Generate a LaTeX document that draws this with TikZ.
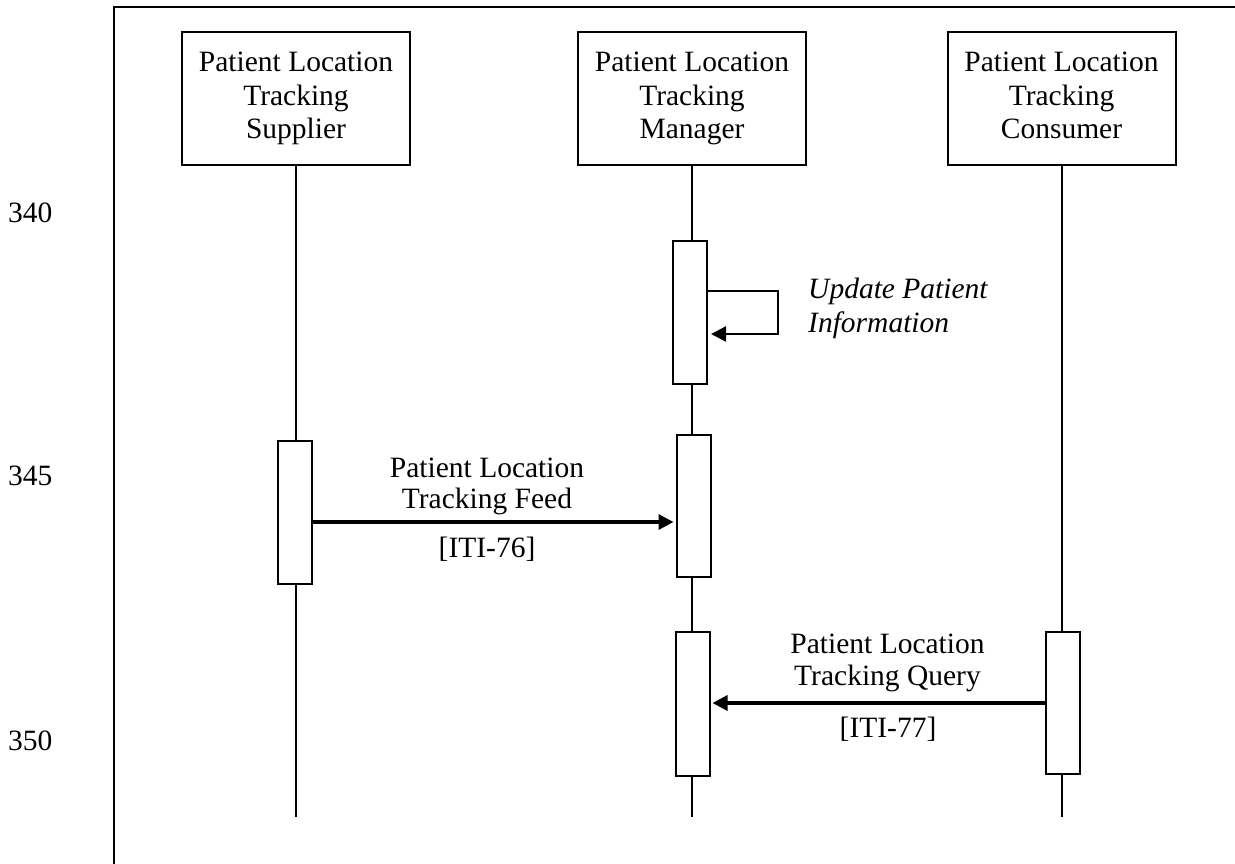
\documentclass[tikz,border=0pt]{standalone}
\usepackage{fontspec}
\setmainfont{Liberation Serif}
\usetikzlibrary{arrows.meta}
\begin{document}
\begin{tikzpicture}[x=1pt,y=-1pt,
  txt/.style={font=\fontsize{29.5}{33.5}\selectfont, inner sep=0pt},
  actor/.style={draw, line width=2pt, fill=white, minimum width=228pt, minimum height=133pt, align=center, txt},
  act/.style={draw, line width=2pt, fill=white, minimum width=34pt, inner sep=0pt},
  life/.style={line width=2pt},
  msg/.style={line width=3.2pt, -{Triangle[length=15pt,width=15pt]}},
  lbl/.style={txt, align=center},
  num/.style={txt, anchor=base west}
]
\useasboundingbox (0,0) rectangle (1235,863);
\draw[line width=2.2pt] (1236,7) -- (114,7) -- (114,864);

% line numbers
\node[num] (n340) at (8,222) {340};
\node[num] (n345) at (8,485) {345};
\node[num] (n350) at (8,750) {350};

% actors
\node[actor] (sup) at (296,98.5) {Patient Location\\Tracking\\Supplier};
\node[actor] (man) at (692,98.5) {Patient Location\\Tracking\\Manager};
\node[actor] (con) at (1061.5,98.5) {Patient Location\\Tracking\\Consumer\vphantom{p}};

% lifeline ends
\coordinate (supE) at (296,817);
\coordinate (manE) at (692,817);
\coordinate (conE) at (1062,817);
\draw[life] (sup.south) -- (supE);
\draw[life] (man.south) -- (manE);
\draw[life] (con.south -| conE) -- (conE);

% activations
\node[act, minimum height=143pt] (m1) at (690,312.5) {};
\node[act, minimum height=143pt] (s1) at (295,512.5) {};
\node[act, minimum height=142pt] (m2) at (693.5,506) {};
\node[act, minimum height=144pt] (m3) at (692.5,704) {};
\node[act, minimum height=142pt] (c1) at (1063,703) {};

% self message
\coordinate (l1) at (778,291);
\coordinate (l2) at (778,334);
\draw[line width=2.4pt, -{Triangle[length=15pt,width=15pt]}]
  (m1.east |- l1) -- (l1) -- (l2) -- ([xshift=3pt]m1.east |- l2);
\node[txt, anchor=base west, font=\fontsize{29.5}{33.5}\selectfont\itshape] (upd) at (808,298)
  {Update Patient};
\node[txt, anchor=base west, font=\fontsize{29.5}{33.5}\selectfont\itshape] (upd2) at (808,332)
  {Information};

% feed
\coordinate (fy) at (0,522);
\draw[msg] (s1.east |- fy) -- ([xshift=-2pt]m2.west |- fy);
\node[lbl, anchor=base] (f1) at (487,477) {Patient Location};
\node[lbl, anchor=base] (f2) at (487,508) {Tracking Feed};
\node[lbl, anchor=base] (f3) at (487,557) {[ITI-76]};

% query
\coordinate (qy) at (0,703);
\draw[msg] (c1.west |- qy) -- ([xshift=2pt]m3.east |- qy);
\node[lbl, anchor=base] (q1) at (887.5,653) {Patient Location};
\node[lbl, anchor=base] (q2) at (887.5,685) {Tracking Query};
\node[lbl, anchor=base] (q3) at (888,737) {[ITI-77]};
\end{tikzpicture}
\end{document}
